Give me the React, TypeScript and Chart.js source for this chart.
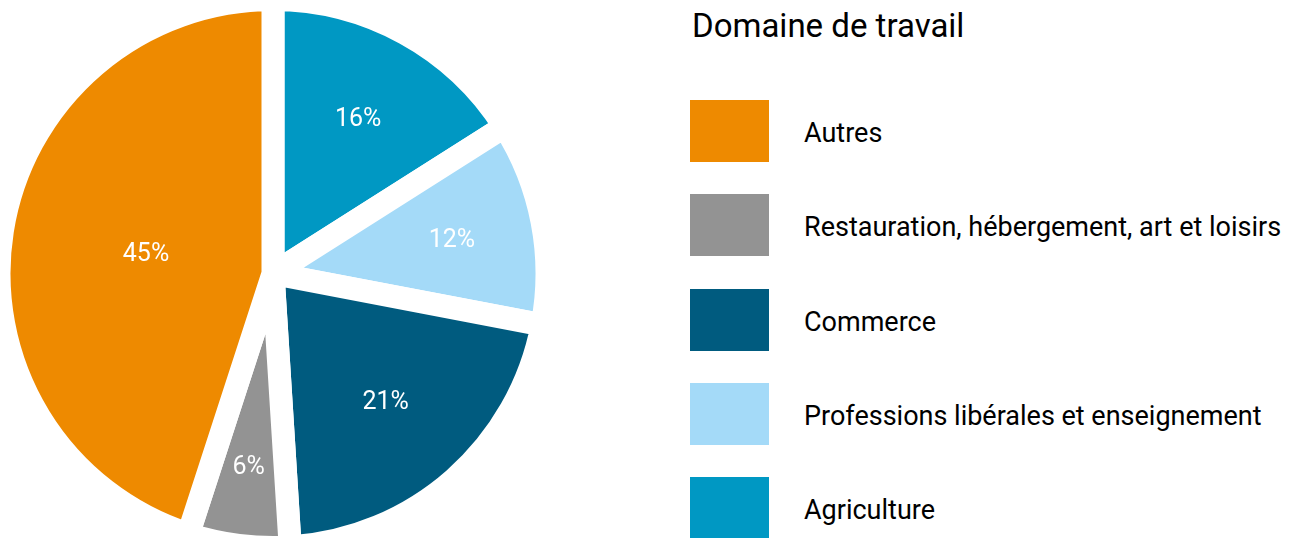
import React, { useEffect, useRef } from "react";
import { Chart, registerables } from "chart.js";

Chart.register(...registerables);

// ---- data ----
const categories = [
  "Agriculture",
  "Professions libérales et enseignement",
  "Commerce",
  "Restauration, hébergement, art et loisirs",
  "Autres",
];
const shares = [16, 12, 21, 6, 45];
const sliceColors = ["#0098C3", "#A4DAF8", "#005B7F", "#939393", "#EE8A00"];
const legendTitle = "Domaine de travail";

// ---- style ----
const FONT = "Roboto, 'Noto Sans', sans-serif";
const BORDER = 23;

const sliceLabels = {
  id: "sliceLabels",
  afterDatasetsDraw(chart: any) {
    const ctx = chart.ctx as CanvasRenderingContext2D;
    const meta = chart.getDatasetMeta(0);
    const values = chart.data.datasets[0].data as number[];
    ctx.save();
    ctx.fillStyle = "#ffffff";
    ctx.font = `25px ${FONT}`;
    ctx.textAlign = "center";
    ctx.textBaseline = "middle";
    meta.data.forEach((arc: any, i: number) => {
      const { x, y, startAngle, endAngle, outerRadius } = arc.getProps(
        ["x", "y", "startAngle", "endAngle", "outerRadius"],
        true
      );
      const h = BORDER / 2;
      const rv = outerRadius - h;
      let sx = 0,
        sy = 0,
        sw = 0;
      const nT = 240,
        nR = 240;
      for (let a = 0; a < nT; a++) {
        const t = startAngle + ((endAngle - startAngle) * (a + 0.5)) / nT;
        const d1 = t - startAngle;
        const d2 = endAngle - t;
        for (let b = 0; b < nR; b++) {
          const r = (rv * (b + 0.5)) / nR;
          const e1 = d1 < Math.PI / 2 ? r * Math.sin(d1) : r;
          const e2 = d2 < Math.PI / 2 ? r * Math.sin(d2) : r;
          if (e1 < h || e2 < h) continue;
          sx += r * r * Math.cos(t);
          sy += r * r * Math.sin(t);
          sw += r;
        }
      }
      const cx = x + sx / sw;
      const cy = y + sy / sw;
      ctx.fillText(`${values[i]}%`, cx, cy + 1);
    });
    ctx.restore();
  },
};

export default function App() {
  const canvasRef = useRef<HTMLCanvasElement | null>(null);

  useEffect(() => {
    if (!canvasRef.current) return;
    const chart = new Chart(canvasRef.current, {
      type: "pie",
      data: {
        labels: categories,
        datasets: [
          {
            data: shares,
            backgroundColor: sliceColors,
            borderColor: "#ffffff",
            borderWidth: BORDER,
            hoverOffset: 0,
            radius: 274,
          } as any,
        ],
      },
      options: {
        responsive: false,
        animation: false,
        events: [],
        layout: { padding: { top: 9 } },
        plugins: {
          legend: { display: false },
          tooltip: { enabled: false },
        },
      } as any,
      plugins: [sliceLabels as any],
    });
    return () => chart.destroy();
  }, []);

  const legendOrder = categories.map((_, i) => i).reverse();

  return (
    <div
      style={{
        position: "fixed",
        left: 0,
        top: 0,
        width: 1292,
        height: 538,
        overflow: "hidden",
        background: "#ffffff",
        fontFamily: FONT,
      }}
    >
      <canvas
        ref={canvasRef}
        width={546}
        height={538}
        style={{ position: "absolute", left: 0, top: 0, width: 546, height: 538, display: "block" }}
      />
      <div
        style={{
          position: "absolute",
          left: 692,
          top: 6,
          fontSize: 33,
          lineHeight: "40px",
          color: "#000",
          whiteSpace: "nowrap",
        }}
      >
        {legendTitle}
      </div>
      {legendOrder.map((idx, k) => (
        <div
          key={idx}
          style={{
            position: "absolute",
            left: 690,
            top: 100 + k * 94.25,
            height: 62,
            display: "flex",
            alignItems: "center",
            whiteSpace: "nowrap",
          }}
        >
          <div style={{ width: 79, height: 62, background: sliceColors[idx] }} />
          <span
            style={{
              marginLeft: 35,
              fontSize: 27,
              lineHeight: "62px",
              color: "#000",
              position: "relative",
              top: 2,
            }}
          >
            {categories[idx]}
          </span>
        </div>
      ))}
    </div>
  );
}
